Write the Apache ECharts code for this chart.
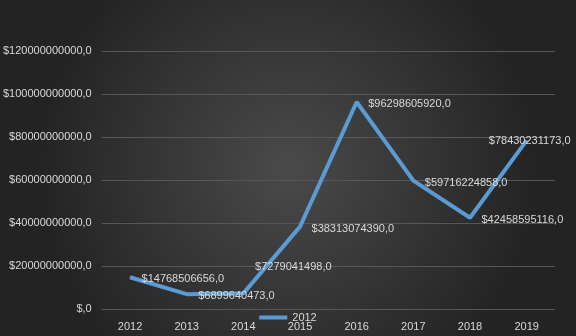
<!DOCTYPE html>
<html><head><meta charset="utf-8">
<script src="https://cdn.jsdelivr.net/npm/echarts@6/dist/echarts.min.js"></script>
<style>html,body{margin:0;padding:0;}#c{width:576px;height:336px;}</style>
</head><body><div id="c"></div>
<script>
const categories = ['2012','2013','2014','2015','2016','2017','2018','2019'];
const seriesName = '2012';
const values = [14768506656, 6899640473, 7279041498, 38313074390, 96298605920, 59716224858, 42458595116, 78430231173];
const yMax = 120000000000;
const yStep = 20000000000;

// label placement overrides (style, not data)
const labelOverrides = {
  2: {position: 'inside', offset: [50, -26]},
  7: {position: 'inside', offset: [3, 1]}
};

const fmt = v => (v === 0 ? '$,0' : '$' + v + ',0');
const seriesData = values.map((v, i) => labelOverrides[i] ? {value: v, label: labelOverrides[i]} : v);

const chart = echarts.init(document.getElementById('c'));
chart.setOption({
  backgroundColor: {
    type: 'radial', x: 0.5, y: 0.5, r: 0.75,
    colorStops: [{offset: 0, color: '#4a4a4a'}, {offset: 1, color: '#232323'}]
  },
  textStyle: {fontFamily: 'Liberation Sans'},
  grid: {left: 100, right: 21, top: 51, bottom: 27},
  legend: {
    data: [seriesName], bottom: 8, left: 'center',
    itemWidth: 28, itemHeight: 4, itemGap: 4,
    textStyle: {color: '#d9d9d9', fontSize: 11, fontFamily: 'Liberation Sans'},
    icon: 'rect'
  },
  xAxis: {
    type: 'category', data: categories, boundaryGap: true,
    axisLine: {show: false}, axisTick: {show: false},
    axisLabel: {color: '#d9d9d9', fontSize: 11, margin: 12}
  },
  yAxis: {
    type: 'value', min: 0, max: yMax, interval: yStep,
    axisLine: {show: false}, axisTick: {show: false},
    axisLabel: {color: '#d9d9d9', fontSize: 11, margin: 10, formatter: fmt},
    splitLine: {lineStyle: {color: '#575757', width: 1}}
  },
  series: [{
    name: seriesName, type: 'line', data: seriesData,
    symbol: 'circle', symbolSize: 1, showSymbol: true,
    itemStyle: {color: '#5b9bd5'},
    lineStyle: {color: '#5b9bd5', width: 4},
    label: {show: true, position: 'right', distance: 11, offset: [0, 2], color: '#d9d9d9', fontSize: 11,
      formatter: p => fmt(p.value)}
  }]
});
</script></body></html>
